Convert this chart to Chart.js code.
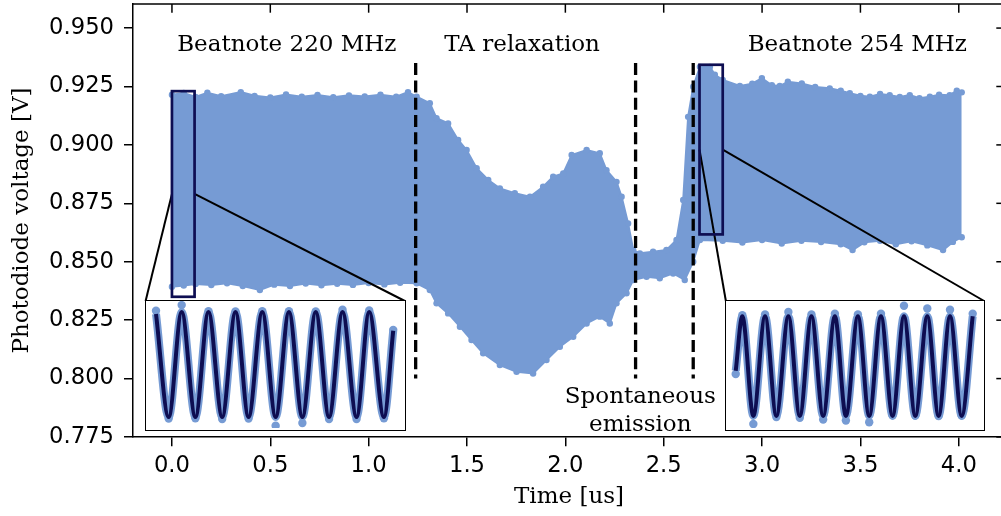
<!DOCTYPE html>
<html lang="en">
<head>
<meta charset="UTF-8" />
<title>Photodiode voltage</title>
<style>
  html, body { margin: 0; padding: 0; overflow: hidden; background: #fff; }
  #clip { width: 1001px; height: 516px; overflow: hidden; }
  #wrap { position: relative; width: 1006px; height: 516px; }
  .inset { position: absolute; box-sizing: border-box; border: 1.6px solid #000; background: #fff; }
  .inset canvas { display: block; }
</style>
</head>
<body>
<div id="clip">
<div id="wrap">
  <canvas id="main" width="1006" height="516"></canvas>
  <div class="inset" id="box1"><canvas id="inset1"></canvas></div>
  <div class="inset" id="box2"><canvas id="inset2"></canvas></div>
</div>
</div>

<script src="https://cdn.jsdelivr.net/npm/chart.js@4.4.0/dist/chart.umd.min.js"></script>
<script>
// ticks
const xTicks = [0, 0.5, 1.0, 1.5, 2.0, 2.5, 3.0, 3.5, 4.0];
const yTicks = [0.775, 0.8, 0.825, 0.85, 0.875, 0.9, 0.925, 0.95];

// upper edge of the measured trace (time in us, voltage in V)
const hiT = [0.00, 0.06, 0.12, 0.18, 0.25, 0.35, 0.42, 0.50, 0.58, 0.66, 0.74, 0.82, 0.90, 0.98, 1.06, 1.14, 1.20,
  1.244, 1.311, 1.345, 1.404, 1.455, 1.498, 1.549, 1.608, 1.667, 1.743, 1.820, 1.887, 1.938, 1.989, 2.032, 2.108,
  2.175, 2.209, 2.260, 2.286, 2.319, 2.345, 2.379, 2.446, 2.514, 2.565, 2.599, 2.624, 2.650, 2.684, 2.735, 2.760,
  2.800, 2.887, 2.950, 2.999, 3.050, 3.090, 3.131, 3.202, 3.270, 3.344, 3.400, 3.446, 3.500, 3.548, 3.600, 3.649,
  3.700, 3.751, 3.800, 3.853, 3.900, 3.954, 3.990, 4.015];
const hiV = [0.9215, 0.9222, 0.9205, 0.9223, 0.9208, 0.9226, 0.9210, 0.9203, 0.9216, 0.9206, 0.9214, 0.9204, 0.9212, 0.9207, 0.9215, 0.9206, 0.9226,
  0.9206, 0.9178, 0.9114, 0.9092, 0.9021, 0.8978, 0.8900, 0.8850, 0.8814, 0.8793, 0.8778, 0.8821, 0.8864, 0.8878, 0.8957, 0.8978,
  0.8964, 0.8892, 0.8842, 0.8778, 0.8664, 0.8550, 0.8536, 0.8543, 0.8550, 0.8593, 0.8764, 0.9120, 0.9249, 0.9334, 0.9334, 0.9300,
  0.9278, 0.9252, 0.9262, 0.9286, 0.9255, 0.9252, 0.9270, 0.9263, 0.9248, 0.9242, 0.9232, 0.9221, 0.9210, 0.9206, 0.9218, 0.9213,
  0.9205, 0.9213, 0.9200, 0.9206, 0.9215, 0.9213, 0.9232, 0.9225];

// lower edge of the measured trace
const loT = [0.00, 0.06, 0.12, 0.20, 0.28, 0.36, 0.447, 0.52, 0.60, 0.68, 0.76, 0.84, 0.92, 1.00, 1.08, 1.16,
  1.244, 1.311, 1.345, 1.404, 1.464, 1.523, 1.582, 1.667, 1.752, 1.836, 1.904, 1.972, 2.040, 2.108, 2.175, 2.226,
  2.260, 2.311, 2.345, 2.413, 2.480, 2.548, 2.607, 2.650, 2.684, 2.80, 2.90, 3.00, 3.10, 3.20, 3.30, 3.40, 3.46,
  3.52, 3.60, 3.68, 3.76, 3.84, 3.92, 3.97, 4.015];
const loV = [0.8393, 0.8398, 0.8405, 0.8400, 0.8408, 0.8396, 0.8379, 0.8402, 0.8396, 0.8407, 0.8399, 0.8406, 0.8401, 0.8409, 0.8403, 0.8410,
  0.8408, 0.8379, 0.8322, 0.8279, 0.8222, 0.8165, 0.8108, 0.8058, 0.8029, 0.8022, 0.8079, 0.8136, 0.8179, 0.8236, 0.8265, 0.8236,
  0.8322, 0.8365, 0.8422, 0.8436, 0.8429, 0.8450, 0.8422, 0.8500, 0.8593, 0.8590, 0.8582, 0.8593, 0.8578, 0.8590, 0.8584, 0.8575, 0.8550,
  0.8583, 0.8590, 0.8575, 0.8588, 0.8570, 0.8550, 0.8585, 0.8605];

// phase boundaries (us) and their vertical extent (V)
const splitT = [1.239, 2.357, 2.650];
const splitV = [0.800, 0.935];

// zoomed windows
const zoomBox1 = { t: [0, 0.115], v: [0.835, 0.923] };
const zoomBox2 = { t: [2.682, 2.800], v: [0.8617, 0.9343] };

// inset 1: 220 MHz beat (time in ns)
const inset1T = [0.0, 2.15, 4.36, 6.69, 8.91, 11.24, 13.50, 15.72, 18.05, 20.32, 22.58, 24.86, 27.13, 29.39, 31.68, 34.06, 36.21, 38.71, 40.29];
const inset1Fit = [0.9140, 0.8426, 0.9154, 0.8426, 0.9154, 0.8426, 0.9154, 0.8426, 0.9154, 0.8426, 0.9154, 0.8426, 0.9154, 0.8426, 0.9154, 0.8426, 0.9154, 0.8426, 0.9024];
const inset1Dots = [0.9163, 0.8415, 0.9202, 0.8418, 0.9160, 0.8412, 0.9158, 0.8415, 0.9160, 0.8366, 0.9160, 0.8385, 0.9158, 0.8412, 0.9170, 0.8412, 0.9165, 0.8418, 0.9030];

// inset 2: 254 MHz beat (time in ns)
const inset2T = [0, 1.13, 3.01, 5.01, 6.94, 8.99, 10.94, 12.93, 14.93, 16.93, 18.81, 20.86, 22.79, 24.80, 26.78, 28.73, 30.66, 32.71, 34.64, 36.59, 38.58, 40.46];
const inset2Fit = [0.8944, 0.9256, 0.8686, 0.9256, 0.8686, 0.9256, 0.8686, 0.9256, 0.8686, 0.9256, 0.8686, 0.9256, 0.8686, 0.9256, 0.8686, 0.9256, 0.8686, 0.9256, 0.8686, 0.9256, 0.8686, 0.9256];
const inset2Dots = [0.8926, 0.9262, 0.8640, 0.9266, 0.8680, 0.9280, 0.8675, 0.9266, 0.8665, 0.9270, 0.8660, 0.9266, 0.8650, 0.9270, 0.8690, 0.9316, 0.8688, 0.9300, 0.8686, 0.9293, 0.8688, 0.9270];

const BAND = "rgb(118,155,212)";
const NAVY = "#0e0e52";
const SERIF = "DejaVu Serif";

// where the insets sit, in main-axis coordinates
const insetAt1 = { t: [-0.134, 1.184], v: [0.778, 0.8332], span: [-1.70, 42.12] };
const insetAt2 = { t: [2.816, 4.129], v: [0.778, 0.8332], span: [-1.66, 42.22] };

const notes = [
  { text: "Beatnote 220 MHz", t: 0.584, v: 0.9402 },
  { text: "TA relaxation", t: 1.780, v: 0.9402 },
  { text: "Beatnote 254 MHz", t: 3.484, v: 0.9402 },
  { text: "Spontaneous", t: 2.381, v: 0.7894 },
  { text: "emission", t: 2.381, v: 0.7776 },
];

const toPts = (xs, ys) => xs.map((x, i) => ({ x: x, y: ys[i] }));

const overlay = {
  id: "overlay",
  afterDatasetsDraw(chart) {
    const { ctx, chartArea: a, scales: { x, y } } = chart;
    const X = (v) => x.getPixelForValue(v);
    const Y = (v) => y.getPixelForValue(v);
    const seg = (x1, y1, x2, y2) => { ctx.beginPath(); ctx.moveTo(x1, y1); ctx.lineTo(x2, y2); ctx.stroke(); };
    ctx.save();

    // dashed phase boundaries
    ctx.strokeStyle = "#000";
    ctx.lineWidth = 3.3;
    ctx.setLineDash([12, 5.3]);
    splitT.forEach((t) => seg(X(t), Y(splitV[1]), X(t), Y(splitV[0])));
    ctx.setLineDash([]);

    // connectors from zoom boxes to insets
    ctx.lineWidth = 2;
    [[zoomBox1, insetAt1], [zoomBox2, insetAt2]].forEach(([zb, ins]) => {
      const midY = Y((zb.v[0] + zb.v[1]) / 2);
      seg(X(zb.t[0]), midY, X(ins.t[0]), Y(ins.v[1]));
      seg(X(zb.t[1]), midY, X(ins.t[1]), Y(ins.v[1]));
    });

    // zoom boxes
    ctx.strokeStyle = NAVY;
    ctx.lineWidth = 2.7;
    [zoomBox1, zoomBox2].forEach((zb) => {
      ctx.strokeRect(X(zb.t[0]), Y(zb.v[1]), X(zb.t[1]) - X(zb.t[0]), Y(zb.v[0]) - Y(zb.v[1]));
    });

    // text
    ctx.fillStyle = "#000";
    ctx.font = "23px '" + SERIF + "'";
    ctx.textAlign = "center";
    ctx.textBaseline = "alphabetic";
    notes.forEach((n) => ctx.fillText(n.text, X(n.t), Y(n.v)));

    // top and right spines with inward ticks
    ctx.strokeStyle = "#000";
    ctx.lineWidth = 1.5;
    seg(a.left, a.top, a.right, a.top);
    seg(a.right, a.top, a.right, a.bottom);
    xTicks.forEach((t) => seg(X(t), a.top, X(t), a.top + 8.7));
    yTicks.forEach((v) => seg(a.right - 8.7, Y(v), a.right, Y(v)));
    ctx.restore();
  },
};

const mainChart = new Chart(document.getElementById("main"), {
  type: "line",
  data: {
    datasets: [
      {
        data: toPts(hiT, hiV),
        borderColor: BAND, backgroundColor: BAND, borderWidth: 2,
        pointRadius: 3.2, pointBackgroundColor: BAND, pointBorderWidth: 0,
        fill: "+1", tension: 0,
      },
      {
        data: toPts(loT, loV),
        borderColor: BAND, backgroundColor: BAND, borderWidth: 2,
        pointRadius: 3.2, pointBackgroundColor: BAND, pointBorderWidth: 0,
        fill: false, tension: 0,
      },
    ],
  },
  options: {
    responsive: false,
    animation: false,
    events: [],
    layout: { autoPadding: false, padding: { top: 4, right: 1, left: 0, bottom: 0 } },
    plugins: { legend: { display: false }, tooltip: { enabled: false } },
    scales: {
      x: {
        type: "linear", min: -0.198, max: 4.235,
        afterBuildTicks: (s) => { s.ticks = xTicks.map((v) => ({ value: v })); },
        afterFit: (s) => { s.height = 79; s.paddingLeft = 0; s.paddingRight = 0; },
        grid: { drawOnChartArea: false, color: "#000", lineWidth: 1.5, tickLength: 9.3 },
        border: { color: "#000", width: 1.5 },
        ticks: {
          color: "#000", autoSkip: false, maxRotation: 0, padding: 6,
          font: { family: "DejaVu Sans", size: 22.7 },
          callback: (v) => Number(v).toFixed(1),
        },
        title: {
          display: true, text: "Time [us]", color: "#000",
          font: { family: SERIF, size: 23 }, padding: { top: 0, bottom: 5 },
        },
      },
      y: {
        type: "linear", min: 0.775, max: 0.9603,
        afterBuildTicks: (s) => { s.ticks = yTicks.map((v) => ({ value: v })); },
        afterFit: (s) => { s.width = 133; s.paddingTop = 0; s.paddingBottom = 0; },
        grid: { drawOnChartArea: false, color: "#000", lineWidth: 1.5, tickLength: 9 },
        border: { color: "#000", width: 1.5 },
        ticks: {
          color: "#000", autoSkip: false, padding: 10,
          font: { family: "DejaVu Sans", size: 22.7 },
          callback: (v) => Number(v).toFixed(3),
        },
        title: {
          display: true, text: "Photodiode voltage [V]", color: "#000",
          font: { family: SERIF, size: 23 }, padding: { top: 8, bottom: 0 },
        },
      },
    },
  },
  plugins: [overlay],
});

// place an inset box over the main axes and draw its zoomed trace
function makeInset(boxId, canvasId, at, zb, t, fit, dots) {
  const sx = mainChart.scales.x, sy = mainChart.scales.y;
  const l = sx.getPixelForValue(at.t[0]), r = sx.getPixelForValue(at.t[1]);
  const top = sy.getPixelForValue(at.v[1]), bot = sy.getPixelForValue(at.v[0]);
  const box = document.getElementById(boxId);
  box.style.left = (l - 0.8) + "px";
  box.style.top = (top - 0.8) + "px";
  box.style.width = (r - l + 1.6) + "px";
  box.style.height = (bot - top + 1.6) + "px";
  const cv = document.getElementById(canvasId);
  cv.width = Math.round(r - l - 1.6);
  cv.height = Math.round(bot - top - 1.6);

  // first dataset is painted last, so the fit goes first
  return new Chart(cv, {
    type: "line",
    data: {
      datasets: [
        { data: toPts(t, fit), borderColor: NAVY, borderWidth: 4, pointRadius: 0, cubicInterpolationMode: "monotone", fill: false },
        { data: toPts(t, dots), showLine: false, pointRadius: 4.2, pointBackgroundColor: BAND, pointBorderWidth: 0 },
        { data: toPts(t, fit), borderColor: BAND, borderWidth: 8, pointRadius: 0, cubicInterpolationMode: "monotone", fill: false },
      ],
    },
    options: {
      responsive: false,
      animation: false,
      events: [],
      layout: { autoPadding: false, padding: 0 },
      plugins: { legend: { display: false }, tooltip: { enabled: false } },
      scales: {
        x: { type: "linear", min: at.span[0], max: at.span[1], display: false },
        y: { min: zb.v[0], max: zb.v[1], display: false },
      },
    },
  });
}

makeInset("box1", "inset1", insetAt1, zoomBox1, inset1T, inset1Fit, inset1Dots);
makeInset("box2", "inset2", insetAt2, zoomBox2, inset2T, inset2Fit, inset2Dots);
</script>
</body>
</html>
